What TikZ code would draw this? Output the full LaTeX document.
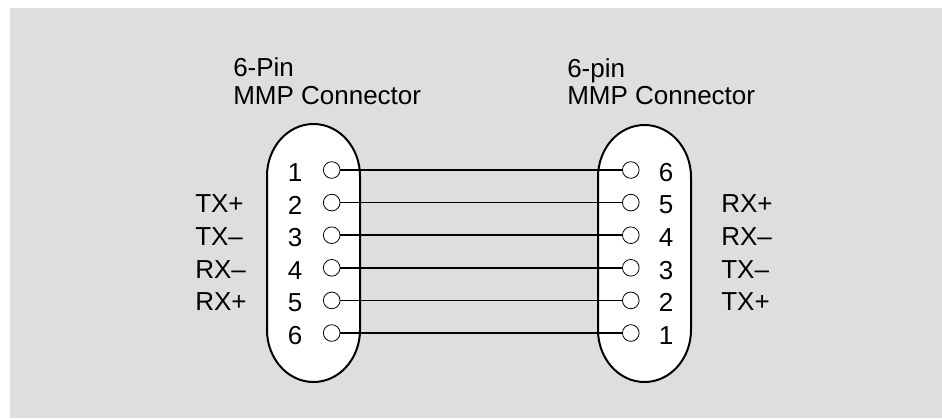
\documentclass[tikz,border=0pt]{standalone}
\usepackage{fontspec}
\setmainfont{Liberation Sans}
\definecolor{bggray}{RGB}{222,222,222}

\begin{document}
\begin{tikzpicture}[
                x=0.75pt, y=-0.75pt,
                every node/.style={font=\fontsize{19.5}{23}\selectfont, inner sep=0pt},
                shell/.style={draw=black,fill=white,line width=1.5pt},
                pin/.style={circle,draw=black,fill=white,minimum size=12.5pt,line width=0.6pt},
                wire/.style={draw=black,line width=1.3pt},
                side/.style={anchor=west},
            ]

            % Background
            \useasboundingbox (0,0) rectangle (942,418);
            \fill[bggray] (10,8) rectangle (942,418);

            % Connector bodies
            \draw[shell] (267,330) -- (267,176) arc[start angle=180, end angle=360, x radius=46.5, y radius=52]
                -- (360,330) arc[start angle=0, end angle=180, x radius=46.5, y radius=52] -- cycle;
            \draw[shell] (598,330) -- (598,177) arc[start angle=180, end angle=360, x radius=46.5, y radius=52]
                -- (691,330) arc[start angle=0, end angle=180, x radius=46.5, y radius=52] -- cycle;

            % Titles
            \node[anchor=base west] (TL1) at (233,76.5) {6-Pin};
            \node[anchor=base west] (TL2) at (233,104) {MMP Connector};
            \node[anchor=base west] (TR1) at (567,77) {6-pin};
            \node[anchor=base west] (TR2) at (567,104) {MMP Connector};

            % Define pins
            \node[pin] (L1) at (331.7,170) {};
            \node[pin] (L2) at (331.7,202.6) {};
            \node[pin] (L3) at (331.7,235.2) {};
            \node[pin] (L4) at (331.7,267.8) {};
            \node[pin] (L5) at (331.7,300.4) {};
            \node[pin] (L6) at (331.7,333) {};
            \node[pin] (R6) at (630.8,170) {};
            \node[pin] (R5) at (630.8,202.6) {};
            \node[pin] (R4) at (630.8,235.2) {};
            \node[pin] (R3) at (630.8,267.8) {};
            \node[pin] (R2) at (630.8,300.4) {};
            \node[pin] (R1) at (630.8,333) {};

            % Pin numbers
            \node (NL1) at (295,172.5) {1};
            \node (NL2) at (295,205.1) {2};
            \node (NL3) at (295,237.7) {3};
            \node (NL4) at (295,270.3) {4};
            \node (NL5) at (295,302.9) {5};
            \node (NL6) at (295,335.5) {6};
            \node (NR6) at (666,172.5) {6};
            \node (NR5) at (666,205.1) {5};
            \node (NR4) at (666,237.7) {4};
            \node (NR3) at (666,270.3) {3};
            \node (NR2) at (666,302.9) {2};
            \node (NR1) at (666,335.5) {1};

            % Signal names
            \node[side] (SL2) at (195,204) {TX+};
            \node[side] (SL3) at (195,236.6) {TX--};
            \node[side] (SL4) at (195,269.2) {RX--};
            \node[side] (SL5) at (195,301.8) {RX+};
            \node[side] (SR5) at (721,204) {RX+};
            \node[side] (SR4) at (721,236.6) {RX--};
            \node[side] (SR3) at (721,269.2) {TX--};
            \node[side] (SR2) at (721,301.8) {TX+};

            % Draw connections
            \draw[wire] (L1) -- (R6);
            \draw[wire] (L2) -- (R5);
            \draw[wire] (L3) -- (R4);
            \draw[wire] (L4) -- (R3);
            \draw[wire] (L5) -- (R2);
            \draw[wire] (L6) -- (R1);

            \end{tikzpicture}
\end{document}
